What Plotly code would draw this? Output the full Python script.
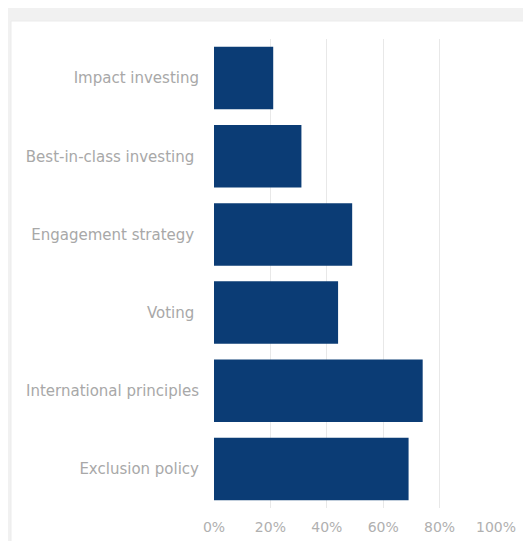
import plotly.graph_objects as go

categories = [
    "Impact investing",
    "Best-in-class investing\u00a0",
    "Engagement strategy\u00a0",
    "Voting\u00a0",
    "International principles",
    "Exclusion policy",
]
values = [0.21, 0.31, 0.49, 0.44, 0.74, 0.69]
tick_vals = [0, 0.2, 0.4, 0.6, 0.8, 1.0]
tick_text = ["0%", "20%", "40%", "60%", "80%", "100%"]

# page has an 8px body margin, so figure coords = screen coords - 8
W, H = 531, 541
L, R, T, B = 206, 43, 31, 41
pw, ph = W - L - R, H - T - B

def px_x(p):
    return (p - L) / pw

def px_y(p):
    return (H - B - p) / ph

fig = go.Figure(
    go.Bar(
        x=values,
        y=categories,
        orientation="h",
        marker=dict(color="#0b3c75", line=dict(width=0)),
        hoverinfo="x+y",
    )
)

fig.add_shape(
    type="rect",
    xref="paper", yref="paper",
    x0=px_x(3), x1=px_x(560), y0=px_y(570), y1=px_y(13),
    fillcolor="white",
    line=dict(color="#ebebeb", width=1),
    layer="below",
)

fig.update_layout(
    width=W, height=H,
    margin=dict(l=L, r=R, t=T, b=B, autoexpand=False),
    paper_bgcolor="#f1f1f1",
    plot_bgcolor="rgba(0,0,0,0)",
    bargap=0.2,
    showlegend=False,
    font=dict(family="DejaVu Sans", size=15, color="#aaaaaa"),
)
fig.update_xaxes(
    automargin=False,
    range=[0, 1.0],
    tickvals=tick_vals,
    ticktext=tick_text,
    showgrid=True,
    gridcolor="#e8e8e8",
    gridwidth=1,
    zeroline=False,
    showline=False,
    ticks="outside",
    ticklen=6,
    tickcolor="rgba(0,0,0,0)",
    tickfont=dict(size=14, color="#b0b0b0"),
)
fig.update_yaxes(
    automargin=False,
    autorange="reversed",
    showgrid=False,
    zeroline=False,
    showline=False,
    ticks="",
    ticklabelstandoff=14,
    tickfont=dict(size=15, color="#a8a8a8"),
)

fig.write_html("out.html")
